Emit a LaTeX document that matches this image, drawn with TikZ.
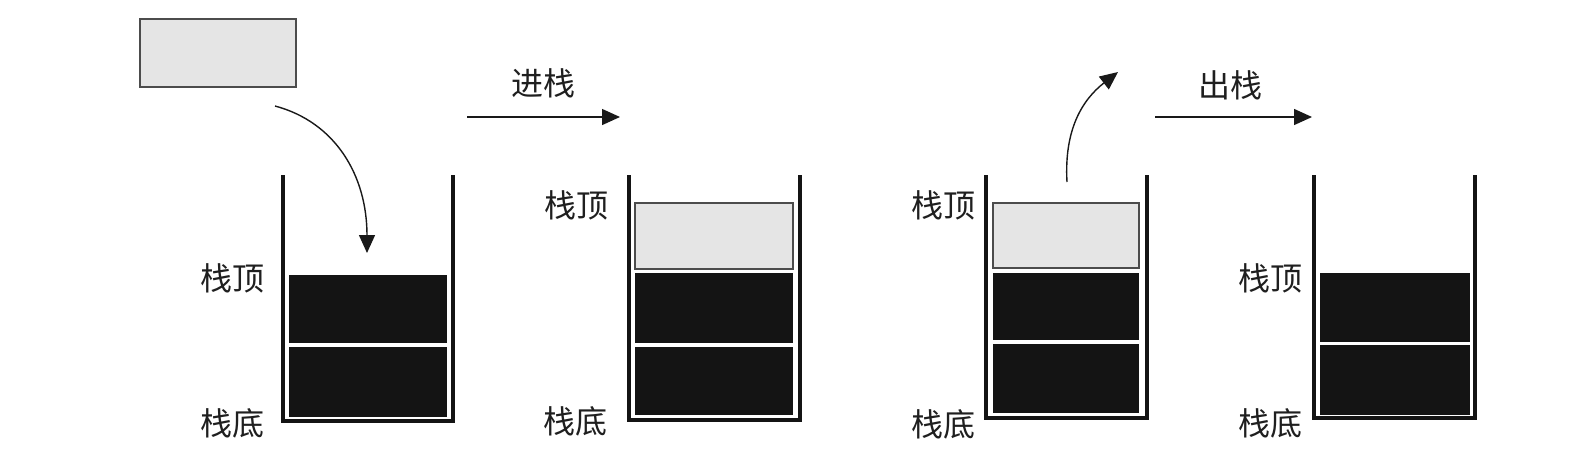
\documentclass[tikz,border=0pt]{standalone}
\usepackage{fontspec}
\newfontfamily\cjk{Noto Sans CJK SC}
\usetikzlibrary{arrows.meta}
\tikzset{
  darkblk/.style={fill=black!92, draw=none, inner sep=0pt, outer sep=0pt},
  lightblk/.style={fill=black!10, draw=black!70, line width=1.4pt, inner sep=0pt, outer sep=0pt},
  wall/.style={line width=4pt, draw=black!92, line join=miter},
  lbl/.style={font=\cjk\fontsize{32}{32}\selectfont, text=black!88, inner sep=0pt},
  arr/.style={-{Triangle[length=18pt,width=16pt]}, line width=1.4pt, draw=black!90},
}
\begin{document}
\begin{tikzpicture}[x=1pt,y=-1pt]
\useasboundingbox[fill=white] (0,0) rectangle (1590,451);

% incoming element
\node[lightblk, minimum width=156pt, minimum height=68pt] (elem) at (218,53) {};
\coordinate (c1s) at (275,106);
\coordinate (c1e) at (367,253);
\draw[arr] (c1s) .. controls (335,122) and (367,175) .. (c1e);

% stack 1
\draw[wall] (283,175) -- (283,421) -- (453,421) -- (453,175);
\node[darkblk, minimum width=158pt, minimum height=68pt] (s1a) at (368,309) {};
\node[darkblk, minimum width=158pt, minimum height=70pt] (s1b) at (368,382) {};
\node[lbl] (s1top) at (232,278) {栈顶};
\node[lbl] (s1bot) at (232,423) {栈底};

% push arrow
\node[lbl] (push) at (543,83) {进栈};
\coordinate (p1) at (467,117);
\coordinate (p2) at (620,117);
\draw[arr] (p1) -- (p2);

% stack 2
\draw[wall] (629,175) -- (629,420) -- (800,420) -- (800,175);
\node[lightblk, minimum width=158pt, minimum height=66pt] (s2l) at (714,236) {};
\node[darkblk, minimum width=158pt, minimum height=70pt] (s2a) at (714,308) {};
\node[darkblk, minimum width=158pt, minimum height=68pt] (s2b) at (714,381) {};
\node[lbl] (s2top) at (576,205) {栈顶};
\node[lbl] (s2bot) at (575,421) {栈底};

% stack 3
\draw[wall] (986,175) -- (986,418) -- (1147,418) -- (1147,175);
\node[lightblk, minimum width=146pt, minimum height=65pt] (s3l) at (1066,235.5) {};
\node[darkblk, minimum width=146pt, minimum height=67pt] (s3a) at (1066,306.5) {};
\node[darkblk, minimum width=146pt, minimum height=69pt] (s3b) at (1066,378.5) {};
\node[lbl] (s3top) at (943,205) {栈顶};
\node[lbl] (s3bot) at (943,424) {栈底};
\coordinate (c2s) at (1067,182);
\coordinate (c2e) at (1118,72);
\draw[arr] (c2s) .. controls (1064,130) and (1082,100) .. (c2e);

% pop arrow
\node[lbl] (pop) at (1230,85) {出栈};
\coordinate (q1) at (1155,117);
\coordinate (q2) at (1312,117);
\draw[arr] (q1) -- (q2);

% stack 4
\draw[wall] (1314,175) -- (1314,418) -- (1475,418) -- (1475,175);
\node[darkblk, minimum width=150pt, minimum height=69pt] (s4a) at (1395,307.5) {};
\node[darkblk, minimum width=150pt, minimum height=70pt] (s4b) at (1395,380) {};
\node[lbl] (s4top) at (1270,278) {栈顶};
\node[lbl] (s4bot) at (1270,423) {栈底};
\end{tikzpicture}
\end{document}
